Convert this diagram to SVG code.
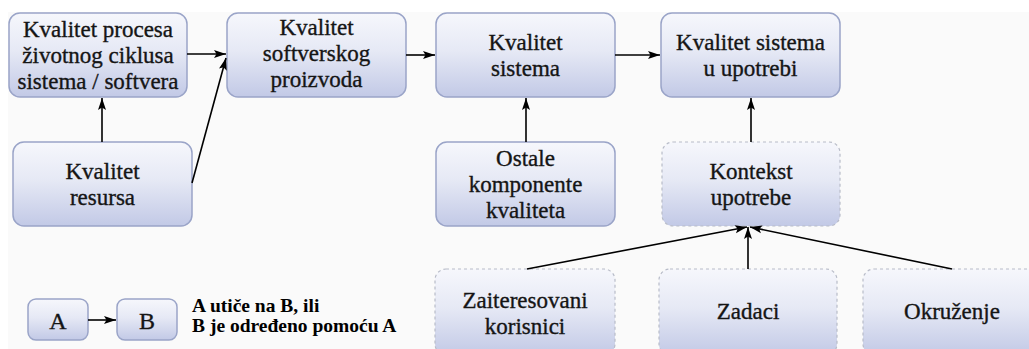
<svg xmlns="http://www.w3.org/2000/svg" width="1029" height="349" viewBox="0 0 1029 349">
  <defs>
    <linearGradient id="boxFill" x1="0" y1="0" x2="0" y2="1">
      <stop offset="0" stop-color="#f6f7fc"/>
      <stop offset="0.45" stop-color="#e6e9f5"/>
      <stop offset="1" stop-color="#c2c9e6"/>
    </linearGradient>
    <marker id="arrow" markerWidth="13" markerHeight="9" refX="12" refY="4.5" orient="auto" markerUnits="userSpaceOnUse">
      <path d="M0,0.5 L12,4.5 L0,8.5 L2.5,4.5 Z" fill="#000"/>
    </marker>
    <style>
      .box { fill: url(#boxFill); stroke: #9aa4c8; stroke-width: 1.5; }
      .dash { fill: url(#boxFill); stroke: #b8bcc8; stroke-width: 1.2; stroke-dasharray: 3 3; }
      .lbl { font-size: 23px; fill: #151515; stroke: #151515; stroke-width: 0.35; text-anchor: middle; }
      .key { font-size: 24px; fill: #151515; stroke: #151515; stroke-width: 0.35; text-anchor: middle; }
      .note { font-size: 19.5px; font-weight: bold; fill: #000; }
      .edge { stroke: #000; stroke-width: 1.6; fill: none; marker-end: url(#arrow); }
    </style>
  </defs>

  <rect x="0" y="0" width="1029" height="349" fill="#ffffff"/>
  <rect x="8" y="12" width="1021" height="337" fill="#fafafa"/>

  <g font-family="Liberation Serif, DejaVu Serif, Times New Roman, serif">
  <g id="n-proces">
    <rect class="box" x="9" y="13" width="178" height="84" rx="11"/>
    <text class="lbl" x="98" y="37">Kvalitet procesa</text>
    <text class="lbl" x="98" y="63">životnog ciklusa</text>
    <text class="lbl" x="98" y="89">sistema / softvera</text>
  </g>

  <g id="n-proizvod">
    <rect class="box" x="227" y="13" width="179" height="84" rx="11"/>
    <text class="lbl" x="316.5" y="35">Kvalitet</text>
    <text class="lbl" x="316.5" y="61">softverskog</text>
    <text class="lbl" x="316.5" y="87">proizvoda</text>
  </g>

  <g id="n-sistem">
    <rect class="box" x="436" y="13" width="179" height="84" rx="11"/>
    <text class="lbl" x="525.5" y="50">Kvalitet</text>
    <text class="lbl" x="525.5" y="76">sistema</text>
  </g>

  <g id="n-upotreba">
    <rect class="box" x="661" y="13" width="179" height="84" rx="11"/>
    <text class="lbl" x="750.5" y="50">Kvalitet sistema</text>
    <text class="lbl" x="750.5" y="76">u upotrebi</text>
  </g>

  <g id="n-resursi">
    <rect class="box" x="13" y="142" width="179" height="84" rx="11"/>
    <text class="lbl" x="102.5" y="179">Kvalitet</text>
    <text class="lbl" x="102.5" y="205">resursa</text>
  </g>

  <g id="n-ostale">
    <rect class="box" x="436" y="142" width="179" height="84" rx="11"/>
    <text class="lbl" x="525.5" y="166">Ostale</text>
    <text class="lbl" x="525.5" y="192">komponente</text>
    <text class="lbl" x="525.5" y="218">kvaliteta</text>
  </g>

  <g id="n-kontekst">
    <rect class="dash" x="662" y="142" width="178" height="84" rx="11"/>
    <text class="lbl" x="751" y="179">Kontekst</text>
    <text class="lbl" x="751" y="205">upotrebe</text>
  </g>

  <g id="n-korisnici">
    <rect class="dash" x="435" y="269" width="180" height="86" rx="11"/>
    <text class="lbl" x="525" y="308">Zaiteresovani</text>
    <text class="lbl" x="525" y="334">korisnici</text>
  </g>

  <g id="n-zadaci">
    <rect class="dash" x="659" y="269" width="178" height="86" rx="11"/>
    <text class="lbl" x="748" y="319">Zadaci</text>
  </g>

  <g id="n-okruzenje">
    <rect class="dash" x="863" y="269" width="179" height="86" rx="11"/>
    <text class="lbl" x="952" y="319">Okruženje</text>
  </g>

  <g id="legend">
    <rect class="box" x="28" y="299" width="60" height="41" rx="8"/>
    <text class="key" x="58" y="329">A</text>
    <rect class="box" x="117" y="299" width="60" height="41" rx="8"/>
    <text class="key" x="147" y="329">B</text>
    <line class="edge" x1="88" y1="320" x2="116" y2="320"/>
    <text class="note" x="192" y="312">A utiče na B, ili</text>
    <text class="note" x="192" y="332">B je određeno pomoću A</text>
  </g>
  </g>

  <g id="connectors">
    <line class="edge" x1="187" y1="54" x2="226" y2="54"/>
    <line class="edge" x1="192" y1="183" x2="226" y2="58"/>
    <line class="edge" x1="102" y1="142" x2="102" y2="98"/>
    <line class="edge" x1="406" y1="55" x2="435" y2="55"/>
    <line class="edge" x1="615" y1="55" x2="660" y2="55"/>
    <line class="edge" x1="526" y1="142" x2="526" y2="98"/>
    <line class="edge" x1="751" y1="142" x2="751" y2="98"/>
    <line class="edge" x1="527" y1="269" x2="747" y2="227"/>
    <line class="edge" x1="748" y1="269" x2="748" y2="227"/>
    <line class="edge" x1="952" y1="269" x2="750" y2="227"/>
  </g>
</svg>
